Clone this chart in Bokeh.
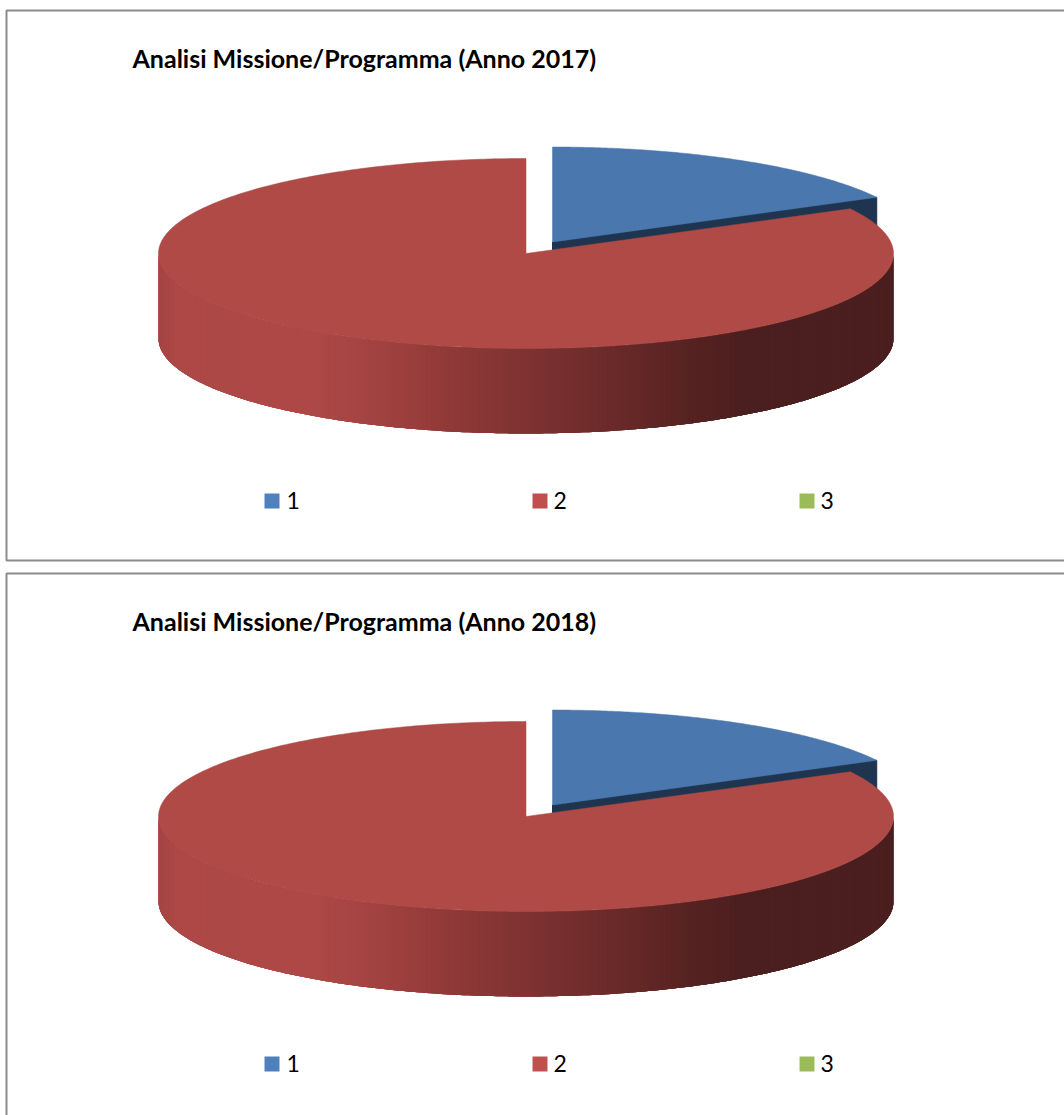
import numpy as np
from bokeh.core.properties import value
from bokeh.embed import file_html
from bokeh.layouts import column
from bokeh.models import Range1d
from bokeh.plotting import figure
from bokeh.resources import INLINE

# ---- data ----
categories = ["1", "2", "3"]
values_2017 = [17.2, 82.8, 0.0]
values_2018 = [17.2, 82.8, 0.0]
title_2017 = "Analisi Missione/Programma (Anno 2017)"
title_2018 = "Analisi Missione/Programma (Anno 2018)"

# ---- style ----
TOP = ["#4A77AE", "#AF4A47", "#8CA94E"]
LEGEND = ["#4F81BD", "#C0504D", "#9BBB59"]
BLUE_SIDE = "#1F344F"
FRAME = "#8C8C8C"
STOP_X = [158, 175, 310, 370, 440, 523, 600, 700, 745, 893]
STOP_R = [0xA4, 0xAC, 0xAE, 0xA4, 0x93, 0x80, 0x6E, 0x55, 0x4B, 0x4B]
STOP_G = [0x45, 0x48, 0x49, 0x44, 0x3B, 0x33, 0x2C, 0x22, 0x1F, 0x1F]
STOP_B = [0x43, 0x46, 0x46, 0x42, 0x39, 0x33, 0x2B, 0x21, 0x1F, 0x1F]

RX, RY, DEPTH = 367.5, 95.0, 85.0
CX, CY = 525.5, 253.0        # main slice apex, in pixels of the first panel
EXPLODE_X, EXPLODE_Y = 26.5, -11.5
LEFT_PX = 0
WIDTH = 1064


def ell(theta, cx, cy):
    """theta in degrees, clockwise from 12 o'clock"""
    t = np.radians(theta)
    return cx + RX * np.sin(t), cy - RY * np.cos(t)


def side_color(x):
    return "#%02x%02x%02x" % (
        int(np.interp(x, STOP_X, STOP_R)),
        int(np.interp(x, STOP_X, STOP_G)),
        int(np.interp(x, STOP_X, STOP_B)),
    )


def panel(title, vals, top_px, height, off, closed_bottom):
    p = figure(width=WIDTH, height=height, output_backend="svg", toolbar_location=None,
               x_range=Range1d(LEFT_PX, LEFT_PX + WIDTH), y_range=Range1d(top_px + height, top_px),
               min_border=0, outline_line_color=None, background_fill_color="white",
               border_fill_color="white")
    p.axis.visible = False
    p.grid.visible = False

    # frame
    fy0 = 10 + off
    fx = 6
    if closed_bottom:
        fb = 560 + off
        p.line([1070, fx, fx, 1070], [fy0, fy0, fb, fb], line_color=FRAME, line_width=2)
    else:
        p.line([1070, fx, fx], [fy0, fy0, 1120], line_color=FRAME, line_width=2)

    total = sum(vals)
    sweeps = [v / total * 360 for v in vals]
    start_blue, end_blue = 0.0, sweeps[0]
    start_red, end_red = end_blue, end_blue + sweeps[1]

    # first slice: cut face, then top
    bx, by = CX + EXPLODE_X, CY + EXPLODE_Y + off
    ex, ey = ell(end_blue, bx, by)
    p.patch([bx, ex, ex, bx], [by, ey, ey + DEPTH, by + DEPTH], fill_color=BLUE_SIDE, line_color=BLUE_SIDE)
    arc = np.linspace(start_blue, end_blue, 120)
    ax, ay = ell(arc, bx, by)
    p.patch([bx, *ax], [by, *ay], fill_color=TOP[0], line_color=TOP[0], line_width=0.5)

    # second slice: curved wall as overlapping shaded strips (later ones cover the joins), then top
    cy = CY + off
    lo, hi = max(start_red, 90.0), min(end_red, 270.0)
    th = np.linspace(lo, hi, 241)
    xs, ys, cols = [], [], []
    for i in range(len(th) - 1):
        seg = th[i:i + 5]
        wx, wy = ell(seg, CX, cy)
        xs.append([*wx, *wx[::-1]])
        ys.append([*wy, *(wy[::-1] + DEPTH)])
        cols.append(side_color(wx[0]))
    p.patches(xs, ys, fill_color=cols, line_color=None)
    arc = np.linspace(start_red, end_red, 360)
    ax, ay = ell(arc, CX, cy)
    p.patch([CX, *ax], [cy, *ay], fill_color=TOP[1], line_color=TOP[1], line_width=0.5)

    # title
    p.text([132], [57.5 + off], text=[title], text_font=value("Lato"), text_font_style="bold",
           text_font_size="25px", text_color="black", text_baseline="middle", text_align="left")

    # legend
    sq_x = [264, 532, 799]
    tx_x = [286, 553, 820]
    for c, col, sx, tx in zip(categories, LEGEND, sq_x, tx_x):
        p.quad(left=[sx], right=[sx + 15], top=[493 + off], bottom=[508 + off], fill_color=col, line_color=None)
        p.text([tx], [500 + off], text=[c], text_font=value("Lato"), text_font_size="23px",
               text_color="black", text_baseline="middle", text_align="left")
    return p


p1 = panel(title_2017, values_2017, 0, 566, 0, True)
p2 = panel(title_2018, values_2018, 566, 549, 563, False)

page = column(p1, p2, spacing=0)
open("out.html", "w").write(file_html(page, INLINE))
